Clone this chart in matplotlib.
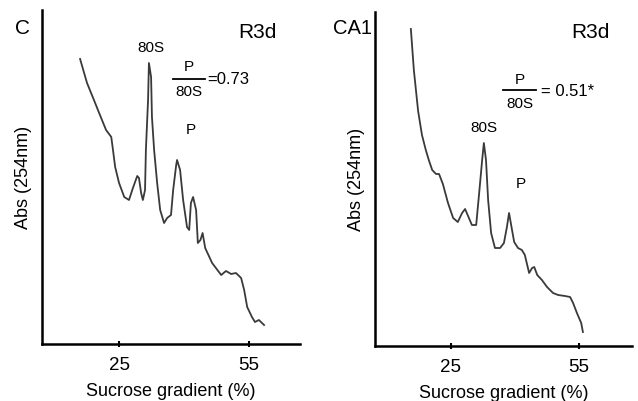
import matplotlib
matplotlib.use("Agg")
import matplotlib.pyplot as plt

plt.rcParams['font.family'] = ['Liberation Sans', 'DejaVu Sans']

# sucrose gradient (%) and absorbance (arbitrary units)
c_x = [16.0, 17.6, 19.2, 20.4, 22.0, 23.2, 23.6, 24.1, 25.0, 26.2, 27.3, 28.2,
       29.2, 29.6, 30.1, 30.5, 31.0, 31.2, 31.7, 31.9, 32.4, 32.6, 33.1, 33.8,
       34.5, 35.4, 36.1, 37.0, 37.5, 38.2, 38.4, 39.1, 39.8, 40.7, 41.2, 41.6,
       42.1, 42.8, 43.2, 43.8, 44.3, 44.9, 46.5, 48.6, 49.7, 50.9, 52.0, 53.2,
       53.9, 54.6, 55.7, 56.4, 57.3, 58.5]
c_abs = [285, 261, 244, 231, 214, 207, 194, 177, 161, 147, 144, 156,
         168, 166, 151, 144, 154, 194, 244, 281, 267, 227, 194, 161,
         134, 121, 126, 129, 154, 179, 184, 174, 144, 117, 114, 141,
         147, 134, 101, 104, 111, 96, 81, 69, 73, 70, 71, 66,
         54, 37, 27, 22, 24, 19]

ca1_x = [15.6, 16.3, 17.3, 18.2, 19.1, 19.8, 20.6, 21.5, 22.2, 23.1, 24.3, 25.5,
         26.6, 27.6, 28.3, 29.0, 29.9, 30.9, 31.6, 32.3, 32.7, 33.2, 33.7, 34.4,
         35.3, 36.5, 37.4, 38.1, 38.6, 39.3, 39.8, 40.7, 41.6, 42.3, 43.3, 44.0,
         44.5, 45.2, 46.3, 47.5, 48.9, 50.1, 51.7, 52.9, 53.6, 54.5, 55.5, 55.9]
ca1_abs = [317, 276, 235, 211, 196, 186, 176, 172, 172, 162, 143, 128,
           124, 133, 137, 130, 121, 121, 153, 186, 203, 186, 146, 113,
           98, 98, 103, 119, 133, 116, 104, 98, 96, 91, 73, 78,
           79, 71, 66, 59, 53, 51, 50, 49, 43, 33, 23, 14]

xticks = [25, 55]
ratio_c = '=0.73'
ratio_ca1 = '= 0.51*'

W, H = 638, 401
fig = plt.figure(figsize=(W / 100, H / 100), dpi=100)


def box(x0, y0, x1, y1):
    return [x0 / W, 1 - y1 / H, (x1 - x0) / W, (y1 - y0) / H]


def px(x, y):
    return x / W, 1 - y / H


def setup(ax, xlim):
    ax.set_xlim(*xlim)
    ax.set_ylim(0, 334)
    for s in ['top', 'right']:
        ax.spines[s].set_visible(False)
    for s in ['left', 'bottom']:
        ax.spines[s].set_linewidth(1.8)
    ax.set_yticks([])
    ax.set_xticks(xticks)
    ax.tick_params(axis='x', direction='inout', length=4, width=1.5,
                   labelsize=13.5, pad=7)
    ax.set_xlabel('Sucrose gradient (%)', fontsize=13, labelpad=7)
    ax.set_ylabel('Abs (254nm)', fontsize=13, labelpad=7)


ax1 = fig.add_axes(box(42, 10, 300, 344))
ax1.plot(c_x, c_abs, color='#3a3a3a', lw=1.3)
setup(ax1, (7.2, 66.8))

ax2 = fig.add_axes(box(375, 12, 632, 346))
ax2.plot(ca1_x, ca1_abs, color='#3a3a3a', lw=1.3)
setup(ax2, (7.2, 67.4))

# panel C annotations
fig.text(*px(22, 28), 'C', fontsize=15, ha='center', va='center')
fig.text(*px(257, 33), 'R3d', fontsize=15, ha='center', va='center')
fig.text(*px(151, 48), '80S', fontsize=11, ha='center', va='center')
fig.text(*px(189, 67), 'P', fontsize=11, ha='center', va='center')
fig.add_artist(plt.Line2D([173 / W, 205 / W], [1 - 79 / H] * 2, color='black', lw=1.3))
fig.text(*px(189, 92), '80S', fontsize=11, ha='center', va='center')
fig.text(*px(207, 80), ratio_c, fontsize=12, ha='left', va='center')
fig.text(*px(191, 130), 'P', fontsize=11, ha='center', va='center')

# panel CA1 annotations
fig.text(*px(352, 28), 'CA1', fontsize=14.5, ha='center', va='center')
fig.text(*px(590, 33), 'R3d', fontsize=15, ha='center', va='center')
fig.text(*px(520, 80), 'P', fontsize=11, ha='center', va='center')
fig.add_artist(plt.Line2D([503 / W, 536 / W], [1 - 90 / H] * 2, color='black', lw=1.3))
fig.text(*px(520, 104), '80S', fontsize=11, ha='center', va='center')
fig.text(*px(541, 92), ratio_ca1, fontsize=12, ha='left', va='center')
fig.text(*px(484, 128), '80S', fontsize=11, ha='center', va='center')
fig.text(*px(521, 184), 'P', fontsize=11, ha='center', va='center')

fig.savefig('out.png', dpi=100)
